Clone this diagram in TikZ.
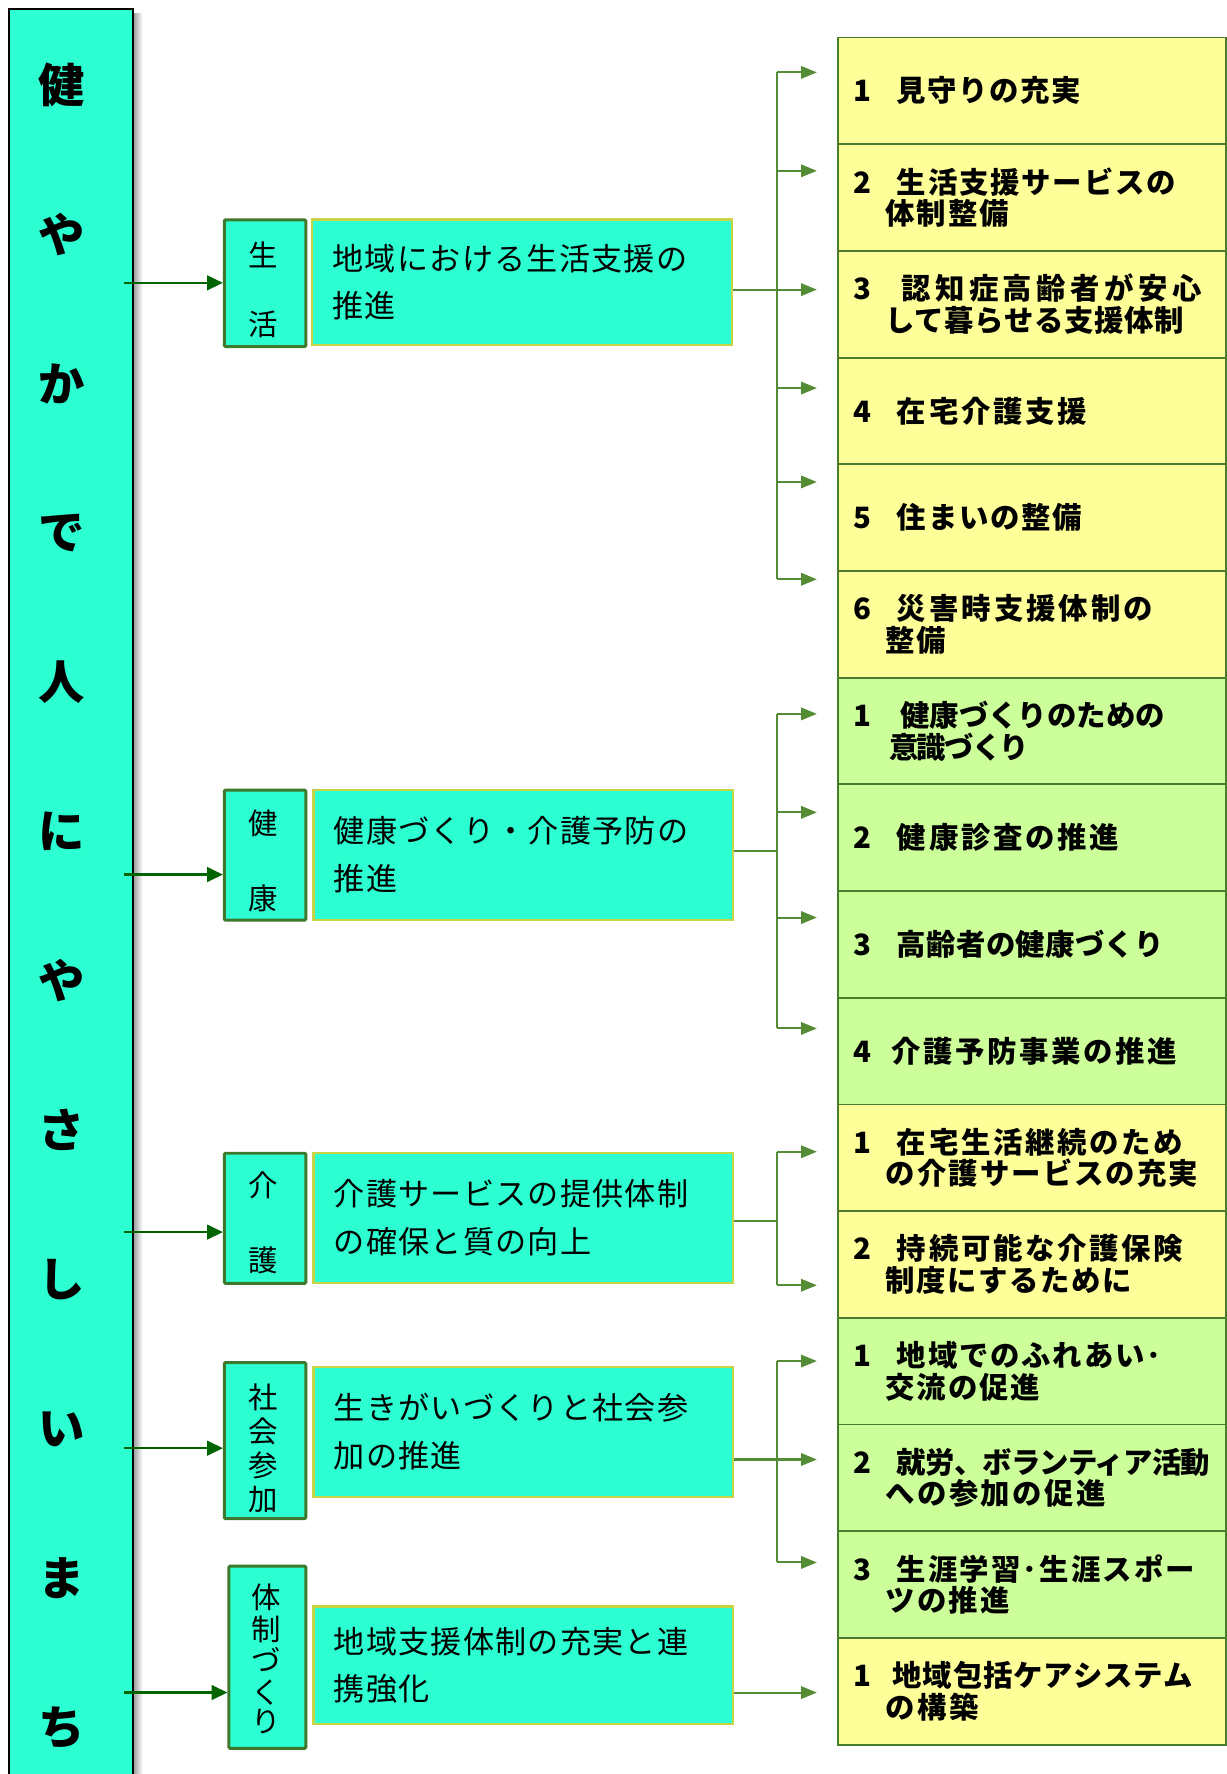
\documentclass[tikz,border=0pt]{standalone}
\usepackage{fontspec}
\setmainfont{Noto Sans CJK JP}
\usetikzlibrary{arrows.meta}
\definecolor{aqua}{RGB}{44,255,210}
\definecolor{catgreen}{RGB}{62,120,44}
\definecolor{mainedge}{RGB}{200,212,70}
\definecolor{rgreen}{RGB}{72,125,46}
\definecolor{lgreen}{RGB}{84,140,54}
\definecolor{dgreen}{RGB}{0,100,0}
\definecolor{ylw}{RGB}{255,255,153}
\definecolor{grn}{RGB}{204,255,153}
\newcommand\ls[2]{{\addfontfeature{LetterSpace=#1}#2}}
\newcommand\nm[1]{\makebox[38pt][l]{#1}}
\newcommand\ind{\hspace*{28pt}}
\tikzset{
  barbox/.style={draw=black, line width=1.8pt, fill=aqua, inner sep=0pt},
  barchar/.style={inner sep=0pt, font=\fontsize{41pt}{41pt}\selectfont\bfseries},
  catbox/.style={draw=catgreen, line width=2.6pt, fill=aqua, rounded corners=1pt, inner sep=0pt, anchor=north west},
  catchar/.style={inner sep=0pt, font=\fontsize{26pt}{26pt}\selectfont},
  mainbox/.style={draw=mainedge, line width=2pt, fill=aqua, align=left, inner xsep=18pt, inner ysep=0pt,
    text width=335pt, anchor=north west, font=\fontsize{27.5pt}{42pt}\selectfont\addfontfeature{LetterSpace=4}},
  rbox/.style={draw=rgreen, line width=1.6pt, minimum height=94.3pt, inner xsep=14pt, inner ysep=0pt,
    text width=315pt, align=left, anchor=north west, font=\fontsize{26pt}{28pt}\selectfont\bfseries},
  conn/.style={draw=lgreen, line width=1.8pt},
  rarr/.style={conn, -{Triangle[length=14pt,width=11pt]}, shorten >=18pt},
  bararr/.style={draw=dgreen, line width=2pt, -{Triangle[length=14pt,width=13pt]}},
}
\begin{document}
\begin{tikzpicture}[x=1pt,y=-1pt]
\useasboundingbox (0,0) rectangle (1084,1568);
% left bar
\shade[left color=black!45, right color=white] (116.5,12) rectangle (126,1568);
\node[barbox, anchor=north west, minimum width=109.6pt, minimum height=1600pt] (bar) at (7.2,7.2) {};
\foreach \ch [count=\i from 0] in {健,や,か,で,人,に,や,さ,し,い,ま,ち}
  \node[barchar] (b\i) at (54.5,75+132*\i) {\ch};
% category boxes
\node[catbox, minimum width=72pt, minimum height=112pt] (c1) at (197,193) {};
\node[catbox, minimum width=72pt, minimum height=115pt] (c2) at (197,697) {};
\node[catbox, minimum width=72pt, minimum height=115pt] (c3) at (197,1018) {};
\node[catbox, minimum width=72pt, minimum height=138pt] (c4) at (197,1203) {};
\node[catbox, minimum width=68pt, minimum height=161pt] (c5) at (201,1383) {};
\node[catchar] (c1a) at (233,225) {生};
\node[catchar] (c1b) at (233,287) {活};
\node[catchar] (c2a) at (233,728) {健};
\node[catchar] (c2b) at (233,794) {康};
\node[catchar] (c3a) at (233,1048) {介};
\node[catchar] (c3b) at (233,1114) {護};
\node[catchar] (c4a) at (233,1235) {社};
\node[catchar] (c4b) at (233,1265) {会};
\node[catchar] (c4c) at (233,1295) {参};
\node[catchar] (c4d) at (233,1325) {加};
\node[catchar] (c5a) at (235,1412) {体};
\node[catchar] (c5b) at (235,1440) {制};
\node[catchar] (c5c) at (235,1467) {づ};
\node[catchar] (c5d) at (235,1496) {く};
\node[catchar] (c5e) at (235,1522) {り};
% main boxes
\node[mainbox, minimum height=111pt] (m1) at (275,193) {地域における生活支援の\\推進};
\node[mainbox, minimum height=115pt] (m2) at (276,697) {健康づくり・介護予防の\\推進};
\node[mainbox, minimum height=115pt] (m3) at (276,1018) {介護サービスの提供体制\\の確保と質の向上};
\node[mainbox, minimum height=115pt] (m4) at (276,1207) {生きがいづくりと社会参\\加の推進};
\node[mainbox, minimum height=104pt] (m5) at (276,1419) {地域支援体制の充実と連\\携強化};
% bar arrows
\coordinate (bx) at (110,0);
\draw[bararr] (bx |- 0,250) -- (c1.west |- 0,250);
\draw[bararr] (bx |- 0,773) -- (c2.west |- 0,773);
\draw[bararr] (bx |- 0,1089) -- (c3.west |- 0,1089);
\draw[bararr] (bx |- 0,1280) -- (c4.west |- 0,1280);
\draw[bararr] (bx |- 0,1496) -- (c5.west |- 0,1496);
% right boxes
\node[rbox, fill=ylw] (r1) at (740,32.4) {\nm{1}\ls{5}{見守りの充実}};
\node[rbox, fill=ylw] (r2) at (740,126.7) {\nm{2}\ls{6}{生活支援サービスの}\\\ind\ls{6}{体制整備}};
\node[rbox, fill=ylw] (r3) at (740,221.0) {\nm{3}\hspace{4pt}\ls{15}{認知症高齢者が安心}\\\ind\ls{2}{して暮らせる支援体制}};
\node[rbox, fill=ylw] (r4) at (740,315.3) {\nm{4}\ls{9}{在宅介護支援}};
\node[rbox, fill=ylw] (r5) at (740,409.6) {\nm{5}\ls{6}{住まいの整備}};
\node[rbox, fill=ylw] (r6) at (740,503.9) {\nm{6}\ls{10}{災害時支援体制の}\\\ind\ls{4}{整備}};
\node[rbox, fill=grn] (g1) at (740,598.2) {\nm{1}\hspace{3pt}\ls{0}{健康づくりのための}\\\hspace*{31pt}\ls{-6}{意識づくり}};
\node[rbox, fill=grn] (g2) at (740,692.5) {\nm{2}\ls{9}{健康診査の推進}};
\node[rbox, fill=grn] (g3) at (740,786.8) {\nm{3}\ls{1}{高齢者の健康づくり}};
\node[rbox, fill=grn] (g4) at (740,881.1) {\nm{4}\hspace{-5pt}\ls{9}{介護予防事業の推進}};
\node[rbox, fill=ylw] (k1) at (740,975.4) {\nm{1}\ls{9}{在宅生活継続のため}\\\ind\ls{7}{の介護サービスの充実}};
\node[rbox, fill=ylw] (k2) at (740,1069.7) {\nm{2}\ls{9}{持続可能な介護保険}\\\ind\ls{5}{制度にするために}};
\node[rbox, fill=grn] (s1) at (740,1164.0) {\nm{1}\ls{6}{地域でのふれあい･}\\\ind\ls{6}{交流の促進}};
\node[rbox, fill=grn] (s2) at (740,1258.3) {\nm{2}\ls{-3}{就労、ボランティア活動}\\\ind\ls{8}{への参加の促進}};
\node[rbox, fill=grn] (s3) at (740,1352.6) {\nm{3}\ls{7}{生涯学習･生涯スポー}\\\ind\ls{7}{ツの推進}};
\node[rbox, fill=ylw] (t1) at (740,1446.9) {\nm{1}\hspace{-4pt}\ls{3}{地域包括ケアシステム}\\\ind\ls{8}{の構築}};
% connectors
\coordinate (tx) at (687,0);
\draw[conn] (m1.east |- 0,256) -- (tx |- 0,256);
\draw[conn] (tx |- 0,64) -- (tx |- 0,512);
\foreach \yy/\rr in {64/r1,151/r2,256/r3,343/r4,426/r5,512/r6}
  \draw[rarr] (tx |- 0,\yy) -- (\rr.west |- 0,\yy);
\draw[conn] (m2.east |- 0,752) -- (tx |- 0,752);
\draw[conn] (tx |- 0,631) -- (tx |- 0,909);
\foreach \yy/\rr in {631/g1,718/g2,811/g3,909/g4}
  \draw[rarr] (tx |- 0,\yy) -- (\rr.west |- 0,\yy);
\draw[conn] (m3.east |- 0,1079) -- (tx |- 0,1079);
\draw[conn] (tx |- 0,1018) -- (tx |- 0,1136);
\foreach \yy/\rr in {1018/k1,1136/k2}
  \draw[rarr] (tx |- 0,\yy) -- (\rr.west |- 0,\yy);
\draw[conn] (m4.east |- 0,1290) -- (tx |- 0,1290);
\draw[conn] (tx |- 0,1203) -- (tx |- 0,1381);
\foreach \yy/\rr in {1203/s1,1290/s2,1381/s3}
  \draw[rarr] (tx |- 0,\yy) -- (\rr.west |- 0,\yy);
\draw[rarr] (m5.east |- 0,1496) -- (t1.west |- 0,1496);
\end{tikzpicture}
\end{document}
